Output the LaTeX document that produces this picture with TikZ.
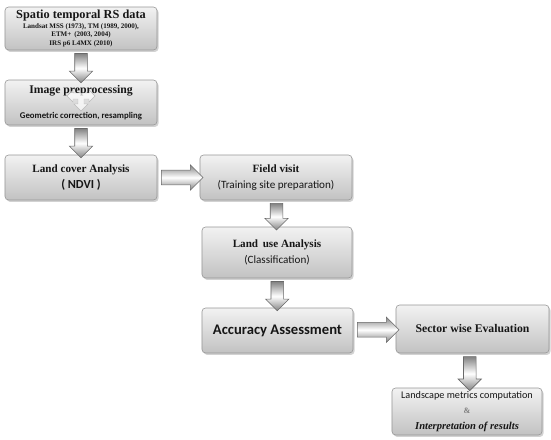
\documentclass[tikz,border=0pt]{standalone}
\usepackage{fontspec}
\setmainfont{Liberation Serif}
\newfontfamily\calfont{Carlito}
\usetikzlibrary{positioning,shapes.arrows,shadows}
\definecolor{boxtop}{RGB}{242,242,242}
\definecolor{boxbot}{RGB}{194,194,194}
\definecolor{boxline}{RGB}{150,150,150}
\definecolor{arrline}{RGB}{105,105,105}
\definecolor{arrfill}{RGB}{130,130,130}
\definecolor{inkdark}{RGB}{22,22,22}
\tikzset{
  procbox/.style={
    rectangle, rounded corners=3pt, draw=boxline, line width=0.5pt,
    top color=boxtop, bottom color=boxbot,
    drop shadow={shadow xshift=1.3pt, shadow yshift=-1.6pt, fill=black!35},
    align=center, text=inkdark, inner sep=2pt
  },
  blockarrow/.style={
    single arrow, draw=arrline, line width=0.5pt,
    top color=arrfill, bottom color=arrfill, middle color=white,
    single arrow head extend=0.16cm, single arrow head indent=0pt,
    inner xsep=0pt, inner ysep=0.18cm, minimum width=0.68cm,
    minimum height=#1
  },
  downarrow/.style={blockarrow=#1, rotate=-90},
  rightarrow/.style={blockarrow=#1, inner ysep=0.21cm, minimum width=0.76cm},
}

\begin{document}
\begin{tikzpicture}[x=0.03cm, y=-0.03cm]
  \useasboundingbox (0,0) rectangle (551,439);

  % left column
  \node[procbox, minimum width=4.56cm, minimum height=1.29cm,
        font=\fontsize{6}{7.2}\selectfont\bfseries] (rsdata) at (81,28.5)
    {{\fontsize{10.5}{12}\selectfont Spatio temporal RS data}\\[1pt]
     Landsat MSS (1973), TM (1989, 2000),\\
     ETM+ \,(2003, 2004)\\
     IRS p6 L4MX (2010)};
  \node[procbox, minimum width=4.56cm, minimum height=1.35cm] (preproc) at (81,102.5)
    {{\fontsize{10}{12}\selectfont\bfseries Image preprocessing}\\[9pt]
     {\calfont\fontsize{7.5}{9}\selectfont\bfseries Geometric correction, resampling}};
  \node[procbox, minimum width=4.56cm, minimum height=1.35cm] (landcover) at (81,177.5)
    {{\fontsize{9.5}{11}\selectfont\bfseries Land cover Analysis}\\[1pt]
     {\calfont\fontsize{10.5}{12}\selectfont\bfseries ( NDVI )}};

  % small split arrow inside the preprocessing box
  \fill[white, opacity=0.7, draw=arrline!60, line width=0.4pt]
    (67,96) -- (73,90) -- (73,93) -- (89,93) -- (89,90) -- (95,96)
    -- (89,102) -- (89,99) -- (84,99) -- (84,104) -- (88,104) -- (81,111)
    -- (74,104) -- (78,104) -- (78,99) -- (73,99) -- (73,102) -- cycle;

  % middle column
  \node[procbox, minimum width=4.56cm, minimum height=1.35cm] (fieldvisit) at (276,177.5)
    {{\fontsize{9.5}{11}\selectfont\bfseries Field visit}\\[1pt]
     {\calfont\fontsize{9.5}{11}\selectfont (Training site preparation)}};
  \node[procbox, minimum width=4.5cm, minimum height=1.53cm] (landuse) at (277,252.5)
    {{\fontsize{9.5}{11}\selectfont\bfseries Land \,use Analysis}\\[1pt]
     {\calfont\fontsize{9.5}{11}\selectfont (Classification)}};
  \node[procbox, minimum width=4.53cm, minimum height=1.35cm] (accuracy) at (277.5,330.5)
    {{\calfont\fontsize{12.5}{14}\selectfont\bfseries Accuracy Assessment}};

  % right column
  \node[procbox, minimum width=4.59cm, minimum height=1.44cm] (sector) at (472.5,329)
    {{\fontsize{10}{12}\selectfont\bfseries Sector wise Evaluation}};
  \node[procbox, minimum width=4.5cm, minimum height=1.41cm] (metrics) at (467,411.5)
    {{\calfont\fontsize{8.7}{10}\selectfont Landscape metrics computation}\\[1pt]
     {\fontsize{7}{8}\selectfont\bfseries\color{gray}\&}\\[1pt]
     {\fontsize{9}{11}\selectfont\bfseries\itshape Interpretation of results}};

  % block arrows between the boxes
  \path (rsdata.south) -- node[downarrow=0.88cm] (a1) {} (preproc.north);
  \path (preproc.south) -- node[downarrow=0.88cm] (a2) {} (landcover.north);
  \path (landcover.east) -- node[rightarrow=1.25cm] (a3) {} (fieldvisit.west);
  \path (fieldvisit.south) -- node[downarrow=0.8cm] (a4) {} (landuse.north);
  \path (landuse.south) -- node[downarrow=0.88cm] (a5) {} (accuracy.north);
  \path (accuracy.east) -- node[rightarrow=1.25cm] (a6) {} (sector.west);
  \path (sector.south) -- node[downarrow=1.02cm] (a7) {} (metrics.north);

\end{tikzpicture}
\end{document}
